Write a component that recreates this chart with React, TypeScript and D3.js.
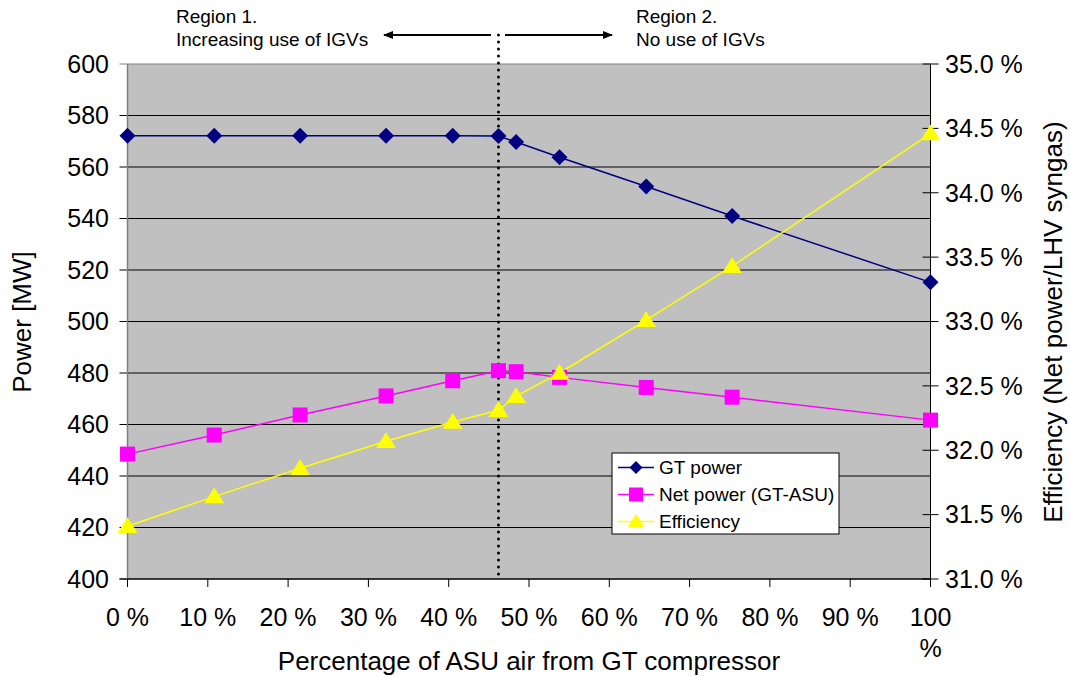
import React from "react";
import * as d3 from "d3";

const xPct = [0, 10.8, 21.5, 32.2, 40.5, 46.2, 48.4, 53.8, 64.6, 75.3, 100];
const gtPower = [572.1, 572.1, 572.1, 572.1, 572.1, 572.0, 569.7, 563.8, 552.4, 541.0, 515.2];
const netPower = [448.5, 455.9, 463.7, 471.1, 477.0, 480.9, 480.5, 478.3, 474.4, 470.6, 461.7];
const efficiency = [31.41, 31.64, 31.86, 32.07, 32.22, 32.31, 32.42, 32.6, 33.01, 33.43, 34.46];
const xTicks = [0, 10, 20, 30, 40, 50, 60, 70, 80, 90, 100];
const leftTicks = [400, 420, 440, 460, 480, 500, 520, 540, 560, 580, 600];
const rightTicks = [31.0, 31.5, 32.0, 32.5, 33.0, 33.5, 34.0, 34.5, 35.0];
const regionX = 46.2;
const legendItems = ["GT power", "Net power (GT-ASU)", "Efficiency"];

const FONT = "'Liberation Sans', Arial, sans-serif";
const NARROW = "'Liberation Sans Narrow', 'Liberation Sans', Arial, sans-serif";

export default function App() {
  const L = 127.5, R = 930.5, T = 64, B = 579;
  const x = d3.scaleLinear().domain([0, 100]).range([L, R]);
  const yL = d3.scaleLinear().domain([400, 600]).range([B, T]);
  const yR = d3.scaleLinear().domain([31, 35]).range([B, T]);

  const lineL = (vals: number[]) =>
    d3.line<number>().x((_, i) => x(xPct[i])).y((v) => yL(v))(vals) || "";
  const lineR = (vals: number[]) =>
    d3.line<number>().x((_, i) => x(xPct[i])).y((v) => yR(v))(vals) || "";

  const diamond = (cx: number, cy: number, s = 8) =>
    `M${cx},${cy - s}L${cx + s},${cy}L${cx},${cy + s}L${cx - s},${cy}Z`;
  const tri = (cx: number, cy: number, s = 9) =>
    `M${cx},${cy - s}L${cx + s * 1.1},${cy + s * 0.75}L${cx - s * 1.1},${cy + s * 0.75}Z`;

  const colors = ["#000080", "#FF00FF", "#FFFF00"];
  const lg = { x: 612, y: 453, w: 227, h: 81 };
  const TS = 25;
  const TT = 26;

  return (
    <svg width={1070} height={676} style={{ position: "absolute", left: 0, top: 0, background: "#fff" }}>
      <defs>
        <marker id="ah" viewBox="0 0 10 10" refX="9" refY="5" markerWidth="10" markerHeight="10" markerUnits="userSpaceOnUse" orient="auto-start-reverse">
          <path d="M0,1L10,5L0,9Z" fill="#000" />
        </marker>
      </defs>
      <rect x={L} y={T} width={R - L} height={B - T} fill="#C0C0C0" />
      {leftTicks.map((t) => (
        <line key={"g" + t} x1={L - 8} x2={R} y1={yL(t)} y2={yL(t)} stroke={t === 600 ? "#808080" : "#000"} strokeWidth={1} />
      ))}
      <line x1={L} x2={L} y1={T} y2={B} stroke="#808080" strokeWidth={1.5} />
      <line x1={R} x2={R} y1={T} y2={B + 1} stroke="#000" strokeWidth={1} />
      <line x1={L - 8} x2={R} y1={B} y2={B} stroke="#000" strokeWidth={1.2} />
      {leftTicks.map((t) => (
        <text key={"lt" + t} x={109} y={yL(t)} dy="0.35em" textAnchor="end" fontFamily={FONT} fontSize={TS}>{t}</text>
      ))}
      {rightTicks.map((t) => (
        <g key={"rt" + t}>
          <line x1={R - 8} x2={R + 8} y1={yR(t)} y2={yR(t)} stroke="#000" />
          <text x={945} y={yR(t)} dy="0.35em" fontFamily={FONT} fontSize={TS}>{t.toFixed(1) + " %"}</text>
        </g>
      ))}
      {xTicks.map((t) => (
        <g key={"xt" + t}>
          <line x1={x(t)} x2={x(t)} y1={B} y2={B + 8} stroke="#000" />
          {t < 100 ? (
            <text x={x(t)} y={626} textAnchor="middle" fontFamily={FONT} fontSize={TS}>{t + " %"}</text>
          ) : (
            <>
              <text x={x(t)} y={626} textAnchor="middle" fontFamily={FONT} fontSize={TS}>{t}</text>
              <text x={x(t)} y={657} textAnchor="middle" fontFamily={FONT} fontSize={TS}>%</text>
            </>
          )}
        </g>
      ))}
      <text x={529} y={670} textAnchor="middle" fontFamily={FONT} fontSize={TT}>Percentage of ASU air from GT compressor</text>
      <text transform={`translate(31,322) rotate(-90)`} textAnchor="middle" fontFamily={FONT} fontSize={TT}>Power [MW]</text>
      <text transform={`translate(1062,322) rotate(-90)`} textAnchor="middle" fontFamily={FONT} fontSize={TT}>Efficiency (Net power/LHV syngas)</text>

      <line x1={x(regionX)} x2={x(regionX)} y1={35} y2={B - 2} stroke="#000" strokeWidth={3} strokeDasharray="0 7" strokeLinecap="round" />
      <line x1={491} x2={384} y1={35} y2={35} stroke="#000" strokeWidth={2} markerEnd="url(#ah)" />
      <line x1={505} x2={612} y1={35} y2={35} stroke="#000" strokeWidth={2} markerEnd="url(#ah)" />
      <text x={176} y={23} fontFamily={NARROW} fontSize={19}>Region 1.</text>
      <text x={176} y={46} fontFamily={NARROW} fontSize={19}>Increasing use of IGVs</text>
      <text x={636} y={23} fontFamily={NARROW} fontSize={19}>Region 2.</text>
      <text x={636} y={46} fontFamily={NARROW} fontSize={19}>No use of IGVs</text>

      <path d={lineL(gtPower)} fill="none" stroke={colors[0]} strokeWidth={1.5} />
      <path d={lineL(netPower)} fill="none" stroke={colors[1]} strokeWidth={1.5} />
      <path d={lineR(efficiency)} fill="none" stroke={colors[2]} strokeWidth={1.5} />
      {gtPower.map((v, i) => (
        <path key={"d" + i} d={diamond(x(xPct[i]), yL(v))} fill={colors[0]} />
      ))}
      {netPower.map((v, i) => (
        <rect key={"s" + i} x={x(xPct[i]) - 7.5} y={yL(v) - 7.5} width={15} height={15} fill={colors[1]} />
      ))}
      {efficiency.map((v, i) => (
        <path key={"t" + i} d={tri(x(xPct[i]), yR(v))} fill={colors[2]} />
      ))}

      <rect x={lg.x} y={lg.y} width={lg.w} height={lg.h} fill="#fff" stroke="#000" strokeWidth={1} />
      {legendItems.map((name, i) => {
        const cy = 467.5 + i * 27;
        return (
          <g key={name}>
            <line x1={618} x2={654} y1={cy} y2={cy} stroke={colors[i]} strokeWidth={1.5} />
            {i === 0 && <path d={diamond(636, cy, 6.5)} fill={colors[0]} />}
            {i === 1 && <rect x={629} y={cy - 7} width={14} height={14} fill={colors[1]} />}
            {i === 2 && <path d={tri(636, cy, 7.5)} fill={colors[2]} />}
            <text x={659} y={cy} dy="0.36em" fontFamily={FONT} fontSize={19}>{name}</text>
          </g>
        );
      })}
    </svg>
  );
}
